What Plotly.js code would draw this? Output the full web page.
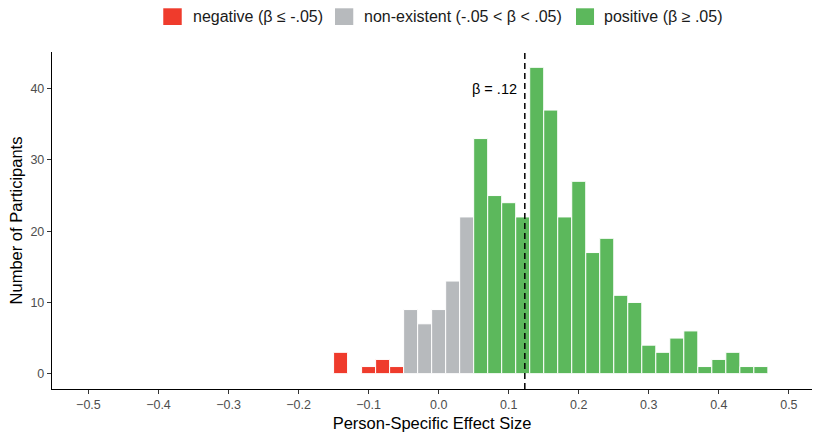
<!DOCTYPE html>
<html>
<head>
<meta charset="utf-8">
<script src="https://cdn.plot.ly/plotly-3.0.1.min.js"></script>
<style>html,body{margin:0;padding:0;background:#fff;}#chart{width:814px;height:433px;}</style>
</head>
<body>
<div id="chart"></div>
<script>
// Bin centres (bin width 0.02) and participant counts, grouped by category
const negativeX = [-0.14, -0.10, -0.08, -0.06];
const negativeY = [3, 1, 2, 1];
const nonexistentX = [-0.04, -0.02, 0.00, 0.02, 0.04];
const nonexistentY = [9, 7, 9, 13, 22];
const positiveX = [0.06, 0.08, 0.10, 0.12, 0.14, 0.16, 0.18, 0.20, 0.22, 0.24, 0.26, 0.28, 0.30, 0.32, 0.34, 0.36, 0.38, 0.40, 0.42, 0.44, 0.46];
const positiveY = [33, 25, 24, 22, 43, 37, 22, 27, 17, 19, 11, 10, 4, 3, 5, 6, 1, 2, 3, 1, 1];
const seriesNames = ["negative (β ≤ -.05)", "non-existent (-.05 < β < .05)", "positive (β ≥ .05)"];
const meanEffect = 0.123;
const meanLabel = "β = .12";
const xTicks = [-0.5, -0.4, -0.3, -0.2, -0.1, 0.0, 0.1, 0.2, 0.3, 0.4, 0.5];
const yTicks = [0, 10, 20, 30, 40];

const binWidth = 0.02;
const colors = ["#EF3B2C", "#B7BABD", "#5CB85C"];
const font = "Liberation Sans, Arial, sans-serif";

function barTrace(x, y, name, color) {
  return {
    type: "bar", x: x, y: y, name: name,
    width: x.map(() => binWidth),
    marker: {color: color, line: {color: "#ffffff", width: 1}},
    hoverinfo: "x+y", showlegend: false
  };
}

const data = [
  barTrace(negativeX, negativeY, seriesNames[0], colors[0]),
  barTrace(nonexistentX, nonexistentY, seriesNames[1], colors[1]),
  barTrace(positiveX, positiveY, seriesNames[2], colors[2])
];

// legend drawn at the top (ggplot-style large keys), positions in paper units
const keyX = [[0.1464, 0.1707], [0.3724, 0.3964], [0.6895, 0.7132]];
const labelX = [0.1830, 0.4080, 0.7238];
const keyY = [1.0801, 1.1297];
const labelY = 1.1047;

const shapes = [{
  type: "line", xref: "x", yref: "paper", x0: meanEffect, x1: meanEffect, y0: 0, y1: 1,
  line: {color: "#000000", width: 1.5, dash: "6px,4px"}
}];
const annotations = [{
  xref: "x", yref: "y", x: meanEffect, y: 40, text: meanLabel,
  showarrow: false, xanchor: "right", yanchor: "middle", xshift: -6,
  font: {size: 14.5, color: "#000000", family: font}
}];
seriesNames.forEach((name, i) => {
  shapes.push({
    type: "rect", xref: "paper", yref: "paper",
    x0: keyX[i][0], x1: keyX[i][1], y0: keyY[0], y1: keyY[1],
    fillcolor: colors[i], line: {width: 0}
  });
  annotations.push({
    xref: "paper", yref: "paper", x: labelX[i], y: labelY, text: name,
    showarrow: false, xanchor: "left", yanchor: "middle",
    font: {size: 16, color: "#1a1a1a", family: font}
  });
});

const layout = {
  width: 814, height: 433,
  paper_bgcolor: "#ffffff", plot_bgcolor: "#ffffff",
  margin: {l: 52, r: 2, t: 52, b: 44, pad: 0},
  font: {family: font, color: "#1a1a1a"},
  barmode: "overlay",
  bargap: 0,
  showlegend: false,
  xaxis: {
    range: [-0.552, 0.533],
    tickvals: xTicks, tickformat: ".1f",
    showgrid: false, zeroline: false,
    showline: true, linecolor: "#000000", linewidth: 1.2,
    ticks: "outside", ticklen: 4, tickcolor: "#333333", tickwidth: 1,
    tickfont: {size: 12.5, color: "#4d4d4d"},
    title: {text: "Person-Specific Effect Size", font: {size: 16.5, color: "#000000"}, standoff: 6}
  },
  yaxis: {
    range: [-2.15, 45.15],
    tickvals: yTicks,
    showgrid: false, zeroline: false,
    showline: true, linecolor: "#000000", linewidth: 1.2,
    ticks: "outside", ticklen: 4, tickcolor: "#333333", tickwidth: 1,
    tickfont: {size: 12.5, color: "#4d4d4d"},
    title: {text: "Number of Participants", font: {size: 16.5, color: "#000000"}, standoff: 3}
  },
  shapes: shapes,
  annotations: annotations
};

Plotly.newPlot("chart", data, layout, {displayModeBar: false, staticPlot: true});
</script>
</body>
</html>
